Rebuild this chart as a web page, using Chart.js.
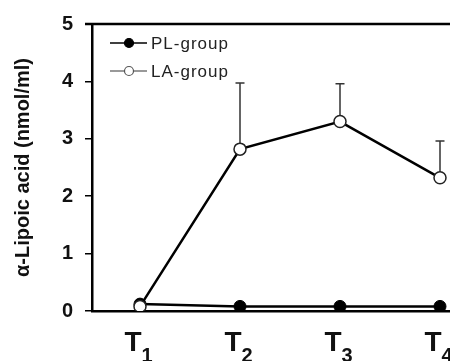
<!DOCTYPE html>
<html>
<head>
<meta charset="utf-8">
<script src="https://cdn.jsdelivr.net/npm/chart.js@4/dist/chart.umd.min.js"></script>
<style>
  html, body { margin: 0; padding: 0; background: #fff; overflow: hidden; width: 450px; height: 361px; }
  #wrap { width: 492px; height: 361px; }
</style>
</head>
<body>
<div id="wrap"><canvas id="chart" width="492" height="361"></canvas></div>
<script>
// time points and group means (nmol/ml), upper SD
const timeLabels = ['T1', 'T2', 'T3', 'T4'];
const plValues = [0.12, 0.08, 0.08, 0.08];
const laValues = [0.08, 2.82, 3.30, 2.32];
const laErrors = [0, 1.15, 0.66, 0.64];
const groupNames = ['PL-group', 'LA-group'];

const FONT = "'Liberation Sans', Arial, sans-serif";

const toPoints = (vals) => vals.map((v, i) => ({ x: i + 1, y: v }));

// upward error bars for the LA series
const errorBars = {
  id: 'errorBars',
  beforeDatasetsDraw(chart) {
    const { ctx, scales: { x, y } } = chart;
    ctx.save();
    ctx.strokeStyle = '#333';
    ctx.lineWidth = 1.5;
    laValues.forEach((v, i) => {
      if (!laErrors[i]) return;
      const px = x.getPixelForValue(i + 1);
      const y0 = y.getPixelForValue(v);
      const y1 = y.getPixelForValue(v + laErrors[i]);
      ctx.beginPath();
      ctx.moveTo(px, y0);
      ctx.lineTo(px, y1);
      ctx.moveTo(px - 4.5, y1);
      ctx.lineTo(px + 4.5, y1);
      ctx.stroke();
    });
    ctx.restore();
  },
};

// top frame line, T-subscript labels and the in-plot legend
const decorations = {
  id: 'decorations',
  afterDraw(chart) {
    const { ctx, chartArea, scales: { x } } = chart;
    ctx.save();
    ctx.strokeStyle = '#000';
    ctx.lineWidth = 2.5;
    ctx.beginPath();
    ctx.moveTo(chartArea.left - 7, chartArea.top);
    ctx.lineTo(chartArea.right, chartArea.top);
    ctx.stroke();

    ctx.fillStyle = '#111';
    ctx.textBaseline = 'alphabetic';
    ctx.textAlign = 'left';
    timeLabels.forEach((lab, i) => {
      const main = lab.charAt(0);
      const sub = lab.slice(1);
      ctx.font = 'bold 28px ' + FONT;
      const wMain = ctx.measureText(main).width;
      ctx.font = 'bold 20px ' + FONT;
      const wSub = ctx.measureText(sub).width;
      const cx = x.getPixelForValue(i + 1) - 1.5;
      const start = cx - (wMain + wSub) / 2;
      ctx.font = 'bold 28px ' + FONT;
      ctx.fillText(main, start, 351);
      ctx.font = 'bold 20px ' + FONT;
      ctx.fillText(sub, start + wMain, 362);
    });

    // legend
    const rows = [
      { y: 43, line: '#000', fill: '#000' },
      { y: 71, line: '#777', fill: '#fff' },
    ];
    rows.forEach((r, i) => {
      ctx.strokeStyle = r.line;
      ctx.lineWidth = 1.5;
      ctx.beginPath();
      ctx.moveTo(110, r.y);
      ctx.lineTo(147, r.y);
      ctx.stroke();
      ctx.beginPath();
      ctx.arc(129, r.y, 4.5, 0, Math.PI * 2);
      ctx.fillStyle = r.fill;
      ctx.fill();
      ctx.strokeStyle = i === 0 ? '#000' : '#555';
      ctx.lineWidth = 1.2;
      ctx.stroke();
      ctx.fillStyle = '#222';
      ctx.font = '17px ' + FONT;
      ctx.letterSpacing = '1px';
      ctx.textBaseline = 'middle';
      ctx.fillText(groupNames[i], 151, r.y + 1);
      ctx.letterSpacing = '0px';
    });
    ctx.restore();
  },
};

new Chart(document.getElementById('chart'), {
  type: 'line',
  data: {
    datasets: [
      {
        label: groupNames[0],
        data: toPoints(plValues),
        borderColor: '#000',
        backgroundColor: '#000',
        borderWidth: 2.5,
        pointRadius: 6,
        pointBorderWidth: 1,
        pointBackgroundColor: '#000',
        pointBorderColor: '#000',
        order: 2,
      },
      {
        label: groupNames[1],
        data: toPoints(laValues),
        borderColor: '#000',
        backgroundColor: '#fff',
        borderWidth: 2.5,
        pointRadius: 6,
        pointBorderWidth: 1.5,
        pointBackgroundColor: '#fff',
        pointBorderColor: '#222',
        order: 1,
      },
    ],
  },
  options: {
    responsive: false,
    animation: false,
    layout: { autoPadding: false, padding: { top: 20, left: 0, right: 0, bottom: 0 } },
    plugins: { legend: { display: false }, tooltip: { enabled: false } },
    scales: {
      x: {
        type: 'linear',
        min: 0.52,
        max: 4.52,
        grid: { display: false },
        border: { display: true, color: '#000', width: 2.5 },
        ticks: { display: false },
        afterFit: (s) => { s.height = 50; },
      },
      y: {
        min: 0,
        max: 5,
        grid: { display: true, drawOnChartArea: false, drawTicks: true, tickLength: 7, color: '#000', lineWidth: 1.5 },
        border: { display: true, color: '#000', width: 2.5 },
        ticks: { stepSize: 1, padding: 12, color: '#111', font: { family: FONT, size: 20, weight: 'bold' } },
        title: {
          display: true,
          text: 'α-Lipoic acid (nmol/ml)',
          color: '#111',
          font: { family: FONT, size: 20, weight: 'bold' },
          padding: { top: 11, bottom: 0 },
        },
        afterFit: (s) => { s.width = 92; },
      },
    },
  },
  plugins: [errorBars, decorations],
});
</script>
</body>
</html>
